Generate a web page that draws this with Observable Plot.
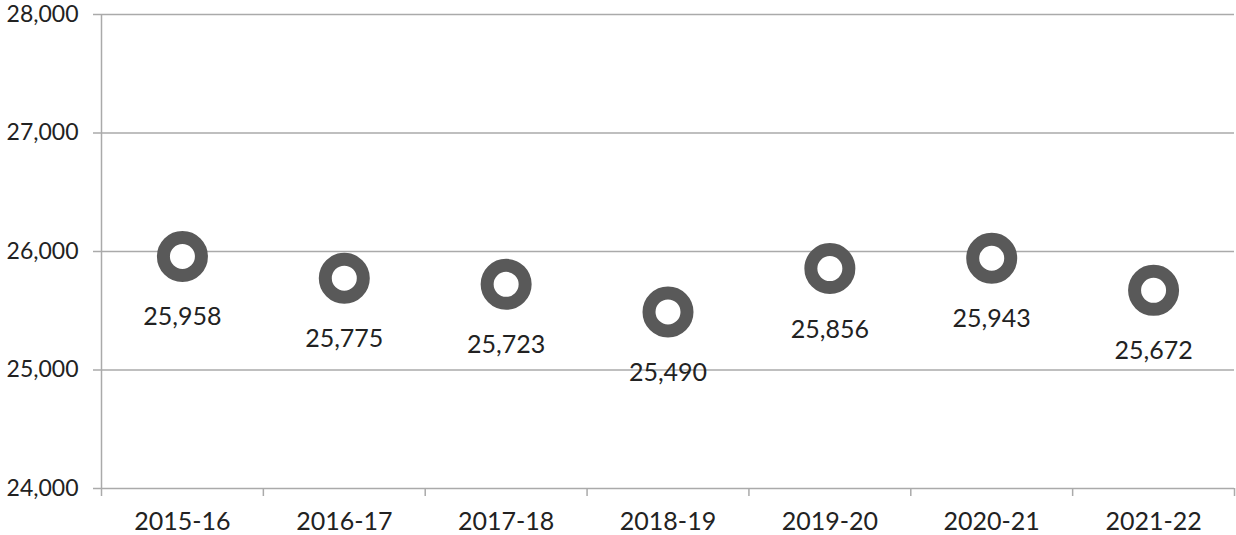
<!DOCTYPE html>
<html><head><meta charset="utf-8">
<script src="https://cdn.jsdelivr.net/npm/d3@7"></script>
<script src="https://cdn.jsdelivr.net/npm/@observablehq/plot@0.6"></script>
<style>
body{margin:0;background:#fff;}
#chart svg{display:block;}
</style></head>
<body><div id="chart"></div>
<script>
const years = ["2015-16","2016-17","2017-18","2018-19","2019-20","2020-21","2021-22"];
const values = [25958,25775,25723,25490,25856,25943,25672];
const yTicks = [24000,25000,26000,27000,28000];
const data = years.map((year,i)=>({year, value: values[i]}));

const W = 1236, H = 535, ml = 101, mr = 2, mt = 14, mb = 47;
const bw = (W - ml - mr) / years.length;
const fmt = d3.format(",");

const chart = Plot.plot({
  width: W, height: H,
  marginLeft: ml, marginRight: mr, marginTop: mt, marginBottom: mb,
  style: {fontFamily: "Lato, 'Open Sans', sans-serif", fontSize: "25px", color: "#222", background: "#fff", overflow: "visible"},
  x: {type: "band", domain: years, padding: 0, round: false, label: null, tickSize: 0, tickPadding: 23},
  y: {domain: [24000, 28000], ticks: yTicks, tickFormat: fmt, label: null, tickSize: 0, tickPadding: 23},
  marks: [
    Plot.axisY({ticks: yTicks, tickFormat: fmt, tickSize: 0, tickPadding: 23, fontSize: 23, label: null}),
    Plot.axisX({tickSize: 0, tickPadding: 24, fontSize: 25, label: null}),
    Plot.ruleY(yTicks, {stroke: "#aaa", strokeWidth: 1.5, insetLeft: -8}),
    Plot.ruleX(years, {x: d => d, dx: -bw/2, y1: 24000, y2: 24000, insetBottom: -8, stroke: "#aaa", strokeWidth: 1.5}),
    Plot.ruleX([years[years.length-1]], {dx: bw/2, y1: 24000, y2: 24000, insetBottom: -8, stroke: "#aaa", strokeWidth: 1.5}),
    Plot.ruleX([years[0]], {dx: -bw/2, y1: 24000, y2: 28000, stroke: "#aaa", strokeWidth: 1.5}),
    Plot.dot(data, {x: "year", y: "value", r: 19, stroke: "#595959", strokeWidth: 13, fill: "#fff"}),
    Plot.text(data, {x: "year", y: "value", text: d => fmt(d.value), dy: 61, fill: "#222", fontSize: 25})
  ]
});
document.getElementById("chart").append(chart);
</script>
</body></html>
